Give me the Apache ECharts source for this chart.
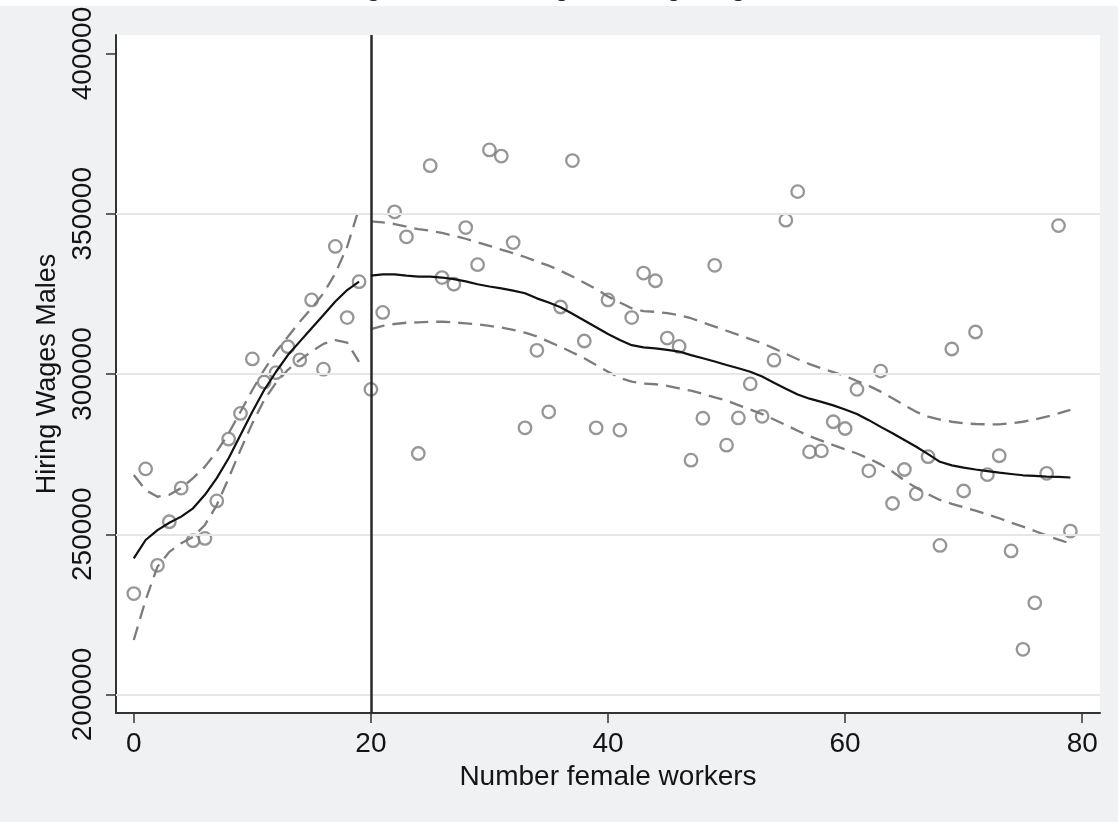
<!DOCTYPE html>
<html>
<head>
<meta charset="utf-8">
<title>Hiring Wages Males</title>
<script src="https://cdn.jsdelivr.net/npm/echarts@6/dist/echarts.min.js"></script>
<style>
  html, body { margin: 0; padding: 0; background: #F0F1F3; }
  #chart { width: 1118px; height: 822px; }
</style>
</head>
<body>
<div id="chart"></div>
<script>
// Number of female workers for each observation
const workers = [0,1,2,3,4,5,6,7,8,9,10,11,12,13,14,15,16,17,18,19,
  20,21,22,23,24,25,26,27,28,29,30,31,32,33,34,35,36,37,38,39,
  40,41,42,43,44,45,46,47,48,49,50,51,52,53,54,55,56,57,58,59,
  60,61,62,63,64,65,66,67,68,69,70,71,72,73,74,75,76,77,78,79];

// Observed hiring wages (males)
const wages = [231500,270400,240300,253900,264400,248000,248700,260400,279700,287700,
  304700,297500,300400,308500,304400,323100,301500,339800,317600,328800,
  295200,319200,350600,342800,275200,365000,330100,328000,345700,334100,
  369900,368000,341000,283200,307400,288200,320900,366600,310300,283200,
  323100,282500,317600,331500,329100,311200,308600,273100,286200,333900,
  277800,286300,296900,286800,304300,348000,356900,275700,276000,285100,
  283000,295200,269800,300900,259600,270200,262600,274200,246500,307800,
  263500,313100,268600,274500,244800,214100,228600,269000,346300,251000];

// Smoothed fit and confidence band below the cutoff (0-19 workers)
const leftX = [0,1,2,3,4,5,6,7,8,9,10,11,12,13,14,15,16,17,18,19];
const leftFit = [242500,248200,251300,253600,255500,258100,262300,267500,273700,281000,
  288200,295000,300700,305900,310100,314300,318400,322600,326200,328800];
const leftUpper = [268500,263800,261700,262300,264400,267500,271100,275800,281500,288200,
  295000,301300,307000,311600,316300,320500,325200,331400,339700,351700];
const leftLower = [217000,229500,239900,244500,247200,249200,252900,259100,267500,276300,
  284600,291900,297300,301300,304400,307000,309400,310600,309800,303800];

// Smoothed fit and confidence band above the cutoff (20-79 workers)
const rightX = [20,21,22,23,24,25,26,27,28,29,30,31,32,33,34,35,36,37,38,39,
  40,41,42,43,44,45,46,47,48,49,50,51,52,53,54,55,56,57,58,59,
  60,61,62,63,64,65,66,67,68,69,70,71,72,73,74,75,76,77,78,79];
const rightFit = [330700,331100,331100,330700,330400,330400,330100,329600,328900,328000,
  327300,326700,326000,325200,323600,322300,320800,318800,316700,314600,
  312500,310600,309000,308300,308000,307500,307000,305900,304900,303900,
  302800,301800,300700,299200,297300,295400,293600,292300,291300,290200,
  288900,287500,285600,283500,281500,279400,277300,275000,272600,271500,
  270800,270200,269700,269200,268800,268400,268200,268000,267900,267700];
const rightUpper = [347600,347300,346800,346000,345200,344700,344000,343100,342200,341100,
  340000,338800,337700,336500,335100,333800,332200,330400,328500,326500,
  324200,322300,320500,319600,319400,319000,318400,317400,316100,314800,
  313500,312200,310900,309600,308000,306300,304600,303100,301800,300600,
  299400,297800,296300,294500,292400,290300,288200,286700,285800,285100,
  284600,284400,284300,284300,284600,285100,285800,286700,287700,288800];
const rightLower = [314000,315000,315600,316000,316100,316300,316300,316100,315800,315500,
  315000,314500,313800,312900,311700,310100,308500,306700,304900,302800,
  300700,298800,297600,297000,296800,296300,295500,294800,293800,292700,
  291700,290300,288900,287500,285800,284100,282300,280600,279200,277800,
  276500,275200,273600,271800,269500,266800,264500,262500,260700,259500,
  258400,257400,256200,255000,253600,252400,251000,249600,248300,247100];

// Axis ticks, gridlines and the cutoff
const xTicks = [0, 20, 40, 60, 80];
const yTicks = [200000, 250000, 300000, 350000, 400000];
const yGrid = [200000, 250000, 300000, 350000];
const cutoff = 20;

const titleText = 'Running line smoothing of Hiring Wages Males';
const xTitle = 'Number female workers';
const yTitle = 'Hiring Wages Males';

const FONT = "'Liberation Sans', Arial, Helvetica, sans-serif";
const INK = '#141414';
const AXIS = '#333333';
const MARK = '#7C7C7C';

function pairs(xs, ys) { return xs.map((x, i) => [x, ys[i]]); }

const dashed = { color: MARK, width: 2.3, type: [14, 8], cap: 'butt' };
const solid = { color: '#111111', width: 2.2 };

const chart = echarts.init(document.getElementById('chart'), null, { renderer: 'canvas' });

chart.setOption({
  backgroundColor: '#F0F1F3',
  animation: false,
  graphic: [
    { type: 'rect', left: 0, top: 0, shape: { width: 1118, height: 6 }, style: { fill: '#FFFFFF' }, z: 1 },
    { type: 'text', x: 277, y: 1.5, z: 2,
      style: { text: titleText, font: '28px ' + FONT, fill: INK, align: 'left', verticalAlign: 'bottom' } }
  ],
  grid: { left: 116, right: 18, top: 35, bottom: 109, show: true, backgroundColor: '#FFFFFF', borderWidth: 0 },
  xAxis: {
    type: 'value', min: -1.5, max: 81.5,
    name: xTitle, nameLocation: 'middle', nameGap: 45,
    nameTextStyle: { fontFamily: FONT, fontSize: 28, color: INK },
    axisLine: { show: true, onZero: false, lineStyle: { color: AXIS, width: 2 } },
    axisTick: { show: true, length: 10, customValues: xTicks, lineStyle: { color: AXIS, width: 1.5 } },
    axisLabel: { customValues: xTicks, margin: 17, fontFamily: FONT, fontSize: 28, color: INK,
      formatter: v => String(v) },
    splitLine: { show: false }
  },
  yAxis: {
    type: 'value', min: 194228, max: 405772,
    name: yTitle, nameLocation: 'middle', nameGap: 50, nameRotate: 90,
    nameTextStyle: { fontFamily: FONT, fontSize: 27, color: INK },
    axisLine: { show: true, onZero: false, lineStyle: { color: AXIS, width: 2 } },
    axisTick: { show: true, length: 10, customValues: yTicks, lineStyle: { color: AXIS, width: 1.5 } },
    axisLabel: { customValues: yTicks, rotate: 90, margin: 19, fontFamily: FONT, fontSize: 28, color: INK,
      formatter: v => String(v) },
    splitLine: { show: false }
  },
  series: [
    {
      name: 'grid', type: 'scatter', data: [], z: 1, silent: true,
      markLine: {
        silent: true, symbol: ['none', 'none'], label: { show: false }, animation: false,
        lineStyle: { color: '#E6E6E6', width: 2, type: 'solid' },
        data: yGrid.map(v => ({ yAxis: v }))
      }
    },
    {
      name: 'Hiring Wages Males', type: 'scatter', z: 3,
      data: pairs(workers, wages),
      symbol: 'circle', symbolSize: 12.5,
      itemStyle: { color: 'rgba(255,255,255,0)', borderColor: MARK, borderWidth: 2.3 }
    },
    { name: 'upper left', type: 'line', z: 4, data: pairs(leftX, leftUpper), showSymbol: false, lineStyle: dashed },
    { name: 'lower left', type: 'line', z: 4, data: pairs(leftX, leftLower), showSymbol: false, lineStyle: dashed },
    { name: 'upper right', type: 'line', z: 4, data: pairs(rightX, rightUpper), showSymbol: false, lineStyle: dashed },
    { name: 'lower right', type: 'line', z: 4, data: pairs(rightX, rightLower), showSymbol: false, lineStyle: dashed },
    { name: 'fit left', type: 'line', z: 5, data: pairs(leftX, leftFit), showSymbol: false, lineStyle: solid },
    {
      name: 'fit right', type: 'line', z: 5, data: pairs(rightX, rightFit), showSymbol: false, lineStyle: solid,
      markLine: {
        silent: true, symbol: ['none', 'none'], label: { show: false }, animation: false,
        lineStyle: { color: '#2A2A2A', width: 2.5, type: 'solid' },
        data: [{ xAxis: cutoff }]
      }
    }
  ]
});
</script>
</body>
</html>
